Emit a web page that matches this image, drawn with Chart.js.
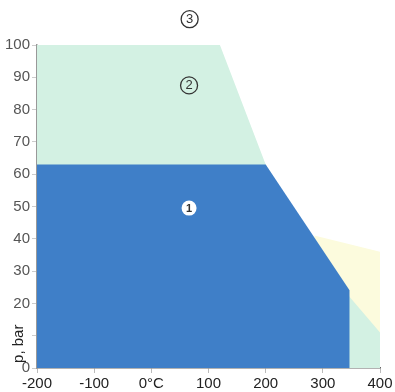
<!DOCTYPE html>
<html><head><meta charset="utf-8">
<script src="https://cdn.jsdelivr.net/npm/chart.js@4/dist/chart.umd.min.js"></script>
<style>html,body{margin:0;padding:0;background:#fff}#w{width:395px;height:392px}</style>
</head><body><div id="w"><canvas id="c"></canvas></div>
<script>
// Region boundaries (temperature °C, pressure bar)
const blueT = [-200, 200, 347, 347];
const blueP = [63, 63, 24, 0];
const greenT = [-200, 120, 200, 347, 400, 400];
const greenP = [100, 100, 63, 22, 11, 0];
const yellowT = [285, 400, 400];
const yellowP = [41, 36, 0];
const xTicks = [-200, -100, 0, 100, 200, 300, 400];
const yTicks = [0, 10, 20, 30, 40, 50, 60, 70, 80, 90, 100];
const zoneLabels = ['1', '2', '3'];
const zoneT = [66, 66, 67];
const zoneP = [49.5, 87.5, 108];

const pts = (xs, ys) => xs.map((x, i) => ({x, y: ys[i]}));

const zonePlugin = {
  id: 'zones',
  afterDatasetsDraw(chart) {
    const {ctx, scales: {x, y}} = chart;
    ctx.save();
    zoneLabels.forEach((t, i) => {
      const px = x.getPixelForValue(zoneT[i]);
      const py = y.getPixelForValue(zoneP[i]);
      ctx.beginPath();
      if (i === 0) {
        ctx.arc(px, py, 7.5, 0, Math.PI * 2);
        ctx.fillStyle = '#ffffff';
        ctx.fill();
        ctx.fillStyle = '#333';
        ctx.font = 'bold 11px "Liberation Sans", Arial, sans-serif';
      } else {
        ctx.arc(px, py, 8.5, 0, Math.PI * 2);
        ctx.strokeStyle = '#333';
        ctx.lineWidth = 1.3;
        ctx.stroke();
        ctx.fillStyle = '#333';
        ctx.font = '13px "Liberation Sans", Arial, sans-serif';
      }
      ctx.textAlign = 'center';
      ctx.textBaseline = 'middle';
      ctx.fillText(t, px, py + 0.5);
    });
    // y axis title
    const ty = y.getPixelForValue(7.5);
    ctx.translate(19, ty);
    ctx.rotate(-Math.PI / 2);
    ctx.fillStyle = '#222';
    ctx.font = '15px "Liberation Sans", Arial, sans-serif';
    ctx.textAlign = 'center';
    ctx.textBaseline = 'middle';
    ctx.fillText('p, bar', 0, 0);
    ctx.restore();
  }
};

new Chart(document.getElementById('c'), {
  type: 'scatter',
  data: {
    datasets: [
      {data: pts(blueT, blueP), showLine: true, fill: 'origin', backgroundColor: '#3f7fc8', borderWidth: 0, pointRadius: 0, tension: 0, order: 1},
      {data: pts(greenT, greenP), showLine: true, fill: 'origin', backgroundColor: '#d3f1e3', borderWidth: 0, pointRadius: 0, tension: 0, order: 2},
      {data: pts(yellowT, yellowP), showLine: true, fill: 'origin', backgroundColor: '#fcfbdd', borderWidth: 0, pointRadius: 0, tension: 0, order: 3}
    ]
  },
  options: {
    responsive: true, maintainAspectRatio: false, animation: false,
    layout: {padding: {top: 45, right: 15, left: 0, bottom: 0}},
    plugins: {legend: {display: false}, tooltip: {enabled: false}},
    scales: {
      x: {
        type: 'linear', min: -200, max: 400,
        afterBuildTicks: s => { s.ticks = xTicks.map(v => ({value: v})); },
        afterFit: s => { s.height = 24; },
        ticks: {color: '#222', font: {size: 15, family: '"Liberation Sans", Arial, sans-serif'}, padding: 2,
          callback: v => v === 0 ? '0°C' : String(v)},
        grid: {display: true, drawOnChartArea: false, drawTicks: true, tickLength: 5, color: '#bbb'},
        border: {color: '#666', width: 1.5}
      },
      y: {
        type: 'linear', min: 0, max: 100,
        afterBuildTicks: s => { s.ticks = yTicks.map(v => ({value: v})); },
        afterFit: s => { s.width = 37; },
        ticks: {color: '#555', font: {size: 15, family: '"Liberation Sans", Arial, sans-serif'}, padding: 2,
          callback: v => v === 10 ? '' : String(v)},
        grid: {display: true, drawOnChartArea: false, drawTicks: true, tickLength: 5, color: '#ccc'},
        border: {color: '#999', width: 1.5}
      }
    }
  },
  plugins: [zonePlugin]
});
</script></body></html>
